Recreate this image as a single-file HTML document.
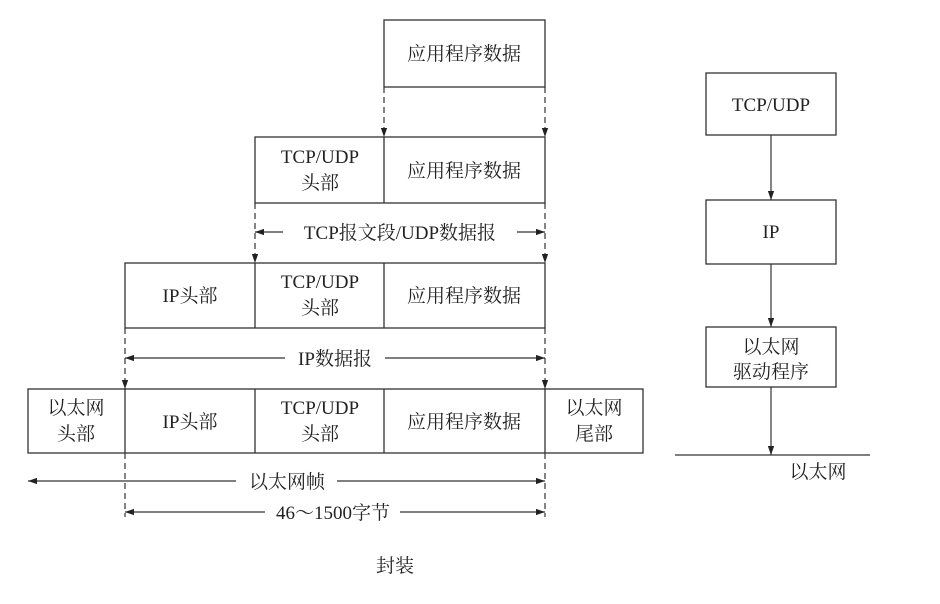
<!DOCTYPE html>
<html><head><meta charset="utf-8"><style>
body{margin:0;background:#fff}
svg text{font-family:"Liberation Serif","Noto Serif CJK SC",serif;font-size:19px;fill:#222;text-anchor:middle}
</style></head><body>
<svg width="940" height="599" viewBox="0 0 940 599" xmlns="http://www.w3.org/2000/svg">
<defs>
<marker id="a" viewBox="0 0 10 10" refX="10" refY="5" markerWidth="9" markerHeight="9" orient="auto-start-reverse" markerUnits="userSpaceOnUse"><path d="M0,1.5 L10,5 L0,8.5 Z" fill="#222"/></marker>
</defs>
<g stroke="#333" stroke-width="1.3" fill="none">
<rect x="384" y="20" width="161" height="67"/>
<rect x="255" y="137" width="290" height="66"/><line x1="384" y1="137" x2="384" y2="203"/>
<rect x="125" y="263" width="420" height="65"/><line x1="255" y1="263" x2="255" y2="328"/><line x1="384" y1="263" x2="384" y2="328"/>
<rect x="28" y="389" width="615" height="64"/><line x1="125" y1="389" x2="125" y2="453"/><line x1="255" y1="389" x2="255" y2="453"/><line x1="384" y1="389" x2="384" y2="453"/><line x1="545" y1="389" x2="545" y2="453"/>
<rect x="706" y="73" width="130" height="62"/>
<rect x="706" y="200" width="130" height="64"/>
<rect x="706" y="327" width="130" height="60"/>
<line x1="675" y1="455" x2="870" y2="455"/>
</g>
<g stroke="#333" stroke-width="1.2" fill="none" stroke-dasharray="6,4">
<line x1="384" y1="87" x2="384" y2="137" marker-end="url(#a)"/>
<line x1="545" y1="87" x2="545" y2="137" marker-end="url(#a)"/>
<line x1="255" y1="203" x2="255" y2="263" marker-end="url(#a)"/>
<line x1="545" y1="203" x2="545" y2="263" marker-end="url(#a)"/>
<line x1="125" y1="328" x2="125" y2="389" marker-end="url(#a)"/>
<line x1="545" y1="328" x2="545" y2="389" marker-end="url(#a)"/>
<line x1="125" y1="453" x2="125" y2="517"/>
<line x1="545" y1="453" x2="545" y2="517"/>
</g>
<g stroke="#333" stroke-width="1.2" fill="none">
<line x1="255" y1="232" x2="283" y2="232" marker-start="url(#a)"/>
<line x1="517" y1="232" x2="545" y2="232" marker-end="url(#a)"/>
<line x1="125" y1="358" x2="285" y2="358" marker-start="url(#a)"/>
<line x1="385" y1="358" x2="545" y2="358" marker-end="url(#a)"/>
<line x1="28" y1="481" x2="236" y2="481" marker-start="url(#a)"/>
<line x1="337" y1="481" x2="545" y2="481" marker-end="url(#a)"/>
<line x1="125" y1="512" x2="265" y2="512" marker-start="url(#a)"/>
<line x1="400" y1="512" x2="545" y2="512" marker-end="url(#a)"/>
<line x1="771" y1="135" x2="771" y2="200" marker-end="url(#a)"/>
<line x1="771" y1="264" x2="771" y2="327" marker-end="url(#a)"/>
<line x1="771" y1="387" x2="771" y2="455" marker-end="url(#a)"/>
</g>
<text x="464" y="60">应用程序数据</text>
<text x="320" y="163">TCP/UDP</text><text x="320" y="189">头部</text>
<text x="464" y="177">应用程序数据</text>
<text x="400" y="239">TCP报文段/UDP数据报</text>
<text x="190" y="302">IP头部</text>
<text x="320" y="288">TCP/UDP</text><text x="320" y="314">头部</text>
<text x="464" y="302">应用程序数据</text>
<text x="335" y="365">IP数据报</text>
<text x="76" y="414">以太网</text><text x="76" y="440">头部</text>
<text x="190" y="428">IP头部</text>
<text x="320" y="414">TCP/UDP</text><text x="320" y="440">头部</text>
<text x="464" y="428">应用程序数据</text>
<text x="594" y="414">以太网</text><text x="594" y="440">尾部</text>
<text x="287" y="488">以太网帧</text>
<text x="333" y="519">46～1500字节</text>
<text x="395" y="572">封装</text>
<text x="771" y="111">TCP/UDP</text>
<text x="771" y="238">IP</text>
<text x="771" y="353">以太网</text><text x="771" y="378">驱动程序</text>
<text x="818" y="478">以太网</text>
</svg>
</body></html>
